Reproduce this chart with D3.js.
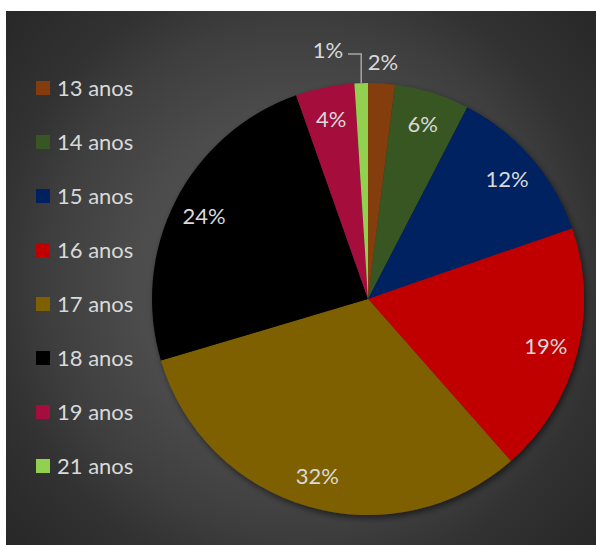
<!DOCTYPE html>
<html><head><meta charset="utf-8">
<script src="https://cdn.jsdelivr.net/npm/d3@7"></script>
<style>html,body{margin:0;padding:0;background:#fff;}svg{display:block;}</style>
</head><body>
<script>
const categories = ["13 anos","14 anos","15 anos","16 anos","17 anos","18 anos","19 anos","21 anos"];
const values = [2.0, 5.6, 12.1, 18.8, 31.9, 24.2, 4.4, 1.0];
const colors = ["#843C0C","#375623","#002060","#C00000","#7F6000","#000000","#A50D3E","#92D050"];

const W = 596, H = 545;
const svg = d3.select("body").append("svg").attr("width", W).attr("height", H);
const defs = svg.append("defs");
const grad = defs.append("radialGradient").attr("id","bg").attr("gradientUnits","userSpaceOnUse")
  .attr("cx",300).attr("cy",278).attr("r",410);
[[0,"#585858"],[0.4,"#4c4c4c"],[0.62,"#3e3e3e"],[0.75,"#323232"],[1,"#262626"]]
  .forEach(([o,c]) => grad.append("stop").attr("offset",o).attr("stop-color",c));
const f = defs.append("filter").attr("id","sh").attr("x","-20%").attr("y","-20%").attr("width","140%").attr("height","140%");
f.append("feDropShadow").attr("dx",2).attr("dy",3).attr("stdDeviation",3).attr("flood-color","#000").attr("flood-opacity",0.55);

svg.append("rect").attr("x",6).attr("y",11).attr("width",W-6).attr("height",H-11).attr("fill","url(#bg)");

const cx = 368, cy = 299, R = 216;
const pie = d3.pie().sort(null).value(d => d)(values);
const arc = d3.arc().innerRadius(0).outerRadius(R);
const g = svg.append("g").attr("transform",`translate(${cx},${cy})`);
const slices = g.append("g").attr("filter","url(#sh)");
slices.selectAll("path").data(pie).join("path").attr("d",arc).attr("fill",(d,i)=>colors[i]);

const total = d3.sum(values);
const fmt = v => Math.round(v/total*100) + "%";
const labelArc = d3.arc().innerRadius(184).outerRadius(184);
const font = "Lato, 'Open Sans', sans-serif";

pie.forEach((d,i) => {
  let x, y;
  if (i === 0) { x = 383 - cx; y = 61 - cy; }
  else if (i === 7) { x = 328 - cx; y = 49 - cy; }
  else { [x, y] = labelArc.centroid(d); }
  g.append("text").attr("x",x).attr("y",y).attr("text-anchor","middle").attr("dominant-baseline","central")
    .attr("font-family",font).attr("font-size",22).attr("fill","#d9d9d9").text(fmt(values[i]));
});
// leader line for 1%
const a7 = (pie[7].startAngle + pie[7].endAngle)/2;
const ex = R*Math.sin(a7), ey = -R*Math.cos(a7);
g.append("path").attr("d",`M${348-cx},${54-cy}H${ex}V${ey}`).attr("fill","none").attr("stroke","#a6a6a6").attr("stroke-width",1.5);

// legend
const leg = svg.append("g");
categories.forEach((c,i) => {
  const y = 88 + i*54;
  leg.append("rect").attr("x",36).attr("y",y-7).attr("width",14).attr("height",14).attr("fill",colors[i]);
  leg.append("text").attr("x",57).attr("y",y-1).attr("dominant-baseline","central")
    .attr("font-family",font).attr("font-size",22).attr("fill","#d9d9d9").text(c);
});
</script>
</body></html>
